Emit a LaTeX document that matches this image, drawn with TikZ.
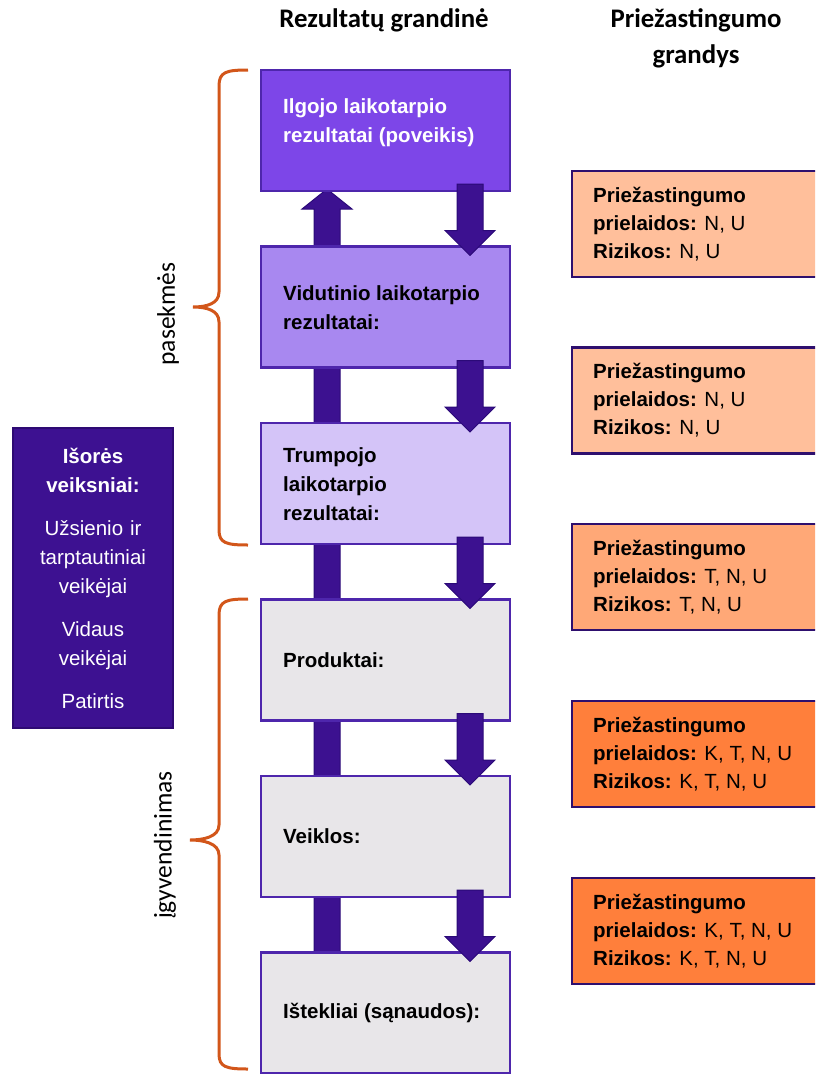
\documentclass[tikz,border=0pt]{standalone}
\usepackage{fontspec}
\setmainfont{Liberation Sans}
\newfontfamily\calfont{Carlito}
\usetikzlibrary{calc,backgrounds}
\definecolor{boxline}{HTML}{4E26AC}
\definecolor{fillA}{HTML}{7D46E8}
\definecolor{fillB}{HTML}{A888F0}
\definecolor{fillC}{HTML}{D4C4F8}
\definecolor{fillG}{HTML}{E8E6E9}
\definecolor{arrowfill}{HTML}{3C1190}
\definecolor{arrowline}{HTML}{2B0A78}
\definecolor{extfill}{HTML}{3D1191}
\definecolor{extline}{HTML}{2E0A73}
\definecolor{causeline}{HTML}{2E0F6E}
\definecolor{peachA}{HTML}{FFBF9B}
\definecolor{peachB}{HTML}{FFA877}
\definecolor{peachC}{HTML}{FF7F3B}
\definecolor{bracecol}{HTML}{D2561A}
\tikzset{
  chainbox/.style={draw=boxline, line width=2.5pt, minimum width=249pt, minimum height=121pt, anchor=north west, inner sep=0pt, outer sep=0pt},
  boxtext/.style={anchor=west, align=left, font=\bfseries\fontsize{20.5}{29}\selectfont, inner sep=0pt},
  causebox/.style={draw=causeline, line width=2.5pt, minimum width=260pt, minimum height=106pt, anchor=north west, inner sep=0pt, outer sep=0pt},
  causetext/.style={anchor=west, align=left, font=\fontsize{20.5}{28}\selectfont, inner sep=0pt},
  blockarrow/.style={fill=arrowfill, draw=arrowline, line width=1pt},
  bracestyle/.style={draw=bracecol, line width=3pt},
  header/.style={font=\calfont\bfseries\fontsize{26.8}{36}\selectfont, align=center, inner sep=0pt},
  sidelabel/.style={rotate=90, font=\calfont\fontsize{25.5}{30}\selectfont, inner sep=0pt}
}
\newcommand\dnarrow[2]{%
  \draw[blockarrow] ($(#1.south east)+(-53,-7)$) -- ($(#1.south east)+(-27,-7)$)
    -- ($(#2.north east)+(-27,-16)$) -- ($(#2.north east)+(-15,-16)$)
    -- ($(#2.north east)+(-40,9)$) -- ($(#2.north east)+(-65,-16)$)
    -- ($(#2.north east)+(-53,-16)$) -- cycle;}
\begin{document}
\begin{tikzpicture}[x=1pt,y=-1pt]
\useasboundingbox (0,0) rectangle (815,1074);
\clip (0,0) rectangle (815,1074);

% headers
\node[header] (h1) at (384,20) {Rezultatų grandinė};
\node[header] (h2) at (696,38) {Priežastingumo\\grandys};

% chain boxes
\node[chainbox, fill=fillA] (b1) at (261,70) {};
\node[chainbox, fill=fillB] (b2) at (261,246.5) {};
\node[chainbox, fill=fillC] (b3) at (261,423) {};
\node[chainbox, fill=fillG] (b4) at (261,599.5) {};
\node[chainbox, fill=fillG] (b5) at (261,776) {};
\node[chainbox, fill=fillG] (b6) at (261,952.5) {};

\node[boxtext, text=white] (t1) at ($(b1.west)+(22,-8)$) {Ilgojo laikotarpio\\rezultatai (poveikis)};
\node[boxtext] (t2) at ($(b2.west)+(22,1)$) {Vidutinio laikotarpio\\rezultatai:};
\node[boxtext] (t3) at ($(b3.west)+(22,1)$) {Trumpojo\\laikotarpio\\rezultatai:};
\node[boxtext] (t4) at ($(b4.west)+(22,0)$) {Produktai:};
\node[boxtext] (t5) at ($(b5.west)+(22,0)$) {Veiklos:};
\node[boxtext] (t6) at ($(b6.west)+(22,0)$) {Ištekliai (sąnaudos):};

% up bar behind boxes
\begin{pgfonlayer}{background}
\draw[blockarrow] ($(b6.north west)+(53,8)$) -- ($(b6.north west)+(79,8)$)
  -- ($(b1.south west)+(79,18)$) -- ($(b1.south west)+(91,18)$)
  -- ($(b1.south west)+(66,-2)$) -- ($(b1.south west)+(41,18)$)
  -- ($(b1.south west)+(53,18)$) -- cycle;
\end{pgfonlayer}

% down arrows
\dnarrow{b1}{b2}
\dnarrow{b2}{b3}
\dnarrow{b3}{b4}
\dnarrow{b4}{b5}
\dnarrow{b5}{b6}

% external factors
\node[draw=extline, line width=2pt, fill=extfill, text=white, anchor=north west,
      minimum width=160pt, minimum height=300pt, text width=150pt, align=center,
      inner sep=0pt, font=\fontsize{20.5}{29}\selectfont] (ext) at (12,427)
  {\textbf{Išorės}\\\textbf{veiksniai:}\\[14pt]Užsienio ir\\tarptautiniai\\veikėjai\\[14pt]Vidaus\\veikėjai\\[14pt]Patirtis};

% cause boxes
\node[causebox, fill=peachA] (c1) at (572,171) {};
\node[causebox, fill=peachA] (c2) at (572,347.5) {};
\node[causebox, fill=peachB] (c3) at (572,524) {};
\node[causebox, fill=peachC] (c4) at (572,701) {};
\node[causebox, fill=peachC] (c5) at (572,878) {};
\node[causetext] (ct1) at ($(c1.west)+(21,0)$) {\textbf{Priežastingumo}\\\textbf{prielaidos:} N, U\\\textbf{Rizikos:} N, U};
\node[causetext] (ct2) at ($(c2.west)+(21,0)$) {\textbf{Priežastingumo}\\\textbf{prielaidos:} N, U\\\textbf{Rizikos:} N, U};
\node[causetext] (ct3) at ($(c3.west)+(21,0)$) {\textbf{Priežastingumo}\\\textbf{prielaidos:} T, N, U\\\textbf{Rizikos:} T, N, U};
\node[causetext] (ct4) at ($(c4.west)+(21,0)$) {\textbf{Priežastingumo}\\\textbf{prielaidos:} K, T, N, U\\\textbf{Rizikos:} K, T, N, U};
\node[causetext] (ct5) at ($(c5.west)+(21,0)$) {\textbf{Priežastingumo}\\\textbf{prielaidos:} K, T, N, U\\\textbf{Rizikos:} K, T, N, U};

% braces
\draw[bracestyle] (248,70) .. controls (226,70) and (219,72) .. (219,86)
  -- (219,292) .. controls (219,304) and (206,307) .. (193,307)
  .. controls (206,307) and (219,310) .. (219,322)
  -- (219,530) .. controls (219,543) and (226,545) .. (248,545);
\draw[bracestyle] (248,599) .. controls (226,599) and (219,601) .. (219,615)
  -- (219,825) .. controls (219,837) and (203,840) .. (190,840)
  .. controls (203,840) and (219,843) .. (219,855)
  -- (219,1054) .. controls (219,1067) and (226,1069) .. (248,1069);
\node[sidelabel] (l1) at (168,314) {pasekmės};
\node[sidelabel] (l2) at (165,845) {įgyvendinimas};
\end{tikzpicture}
\end{document}
